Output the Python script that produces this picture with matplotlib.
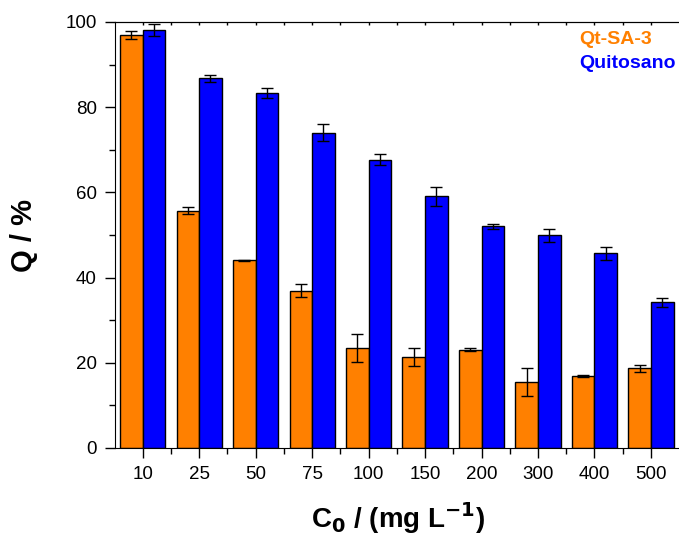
import numpy as np
import matplotlib.pyplot as plt

plt.rcParams['font.family'] = ['Liberation Sans', 'DejaVu Sans']
plt.rcParams['mathtext.default'] = 'bf'

conc = ['10', '25', '50', '75', '100', '150', '200', '300', '400', '500']
qt_sa3 = [96.9, 55.7, 44.1, 36.9, 23.4, 21.3, 23.1, 15.4, 16.9, 18.7]
qt_sa3_err = [1.0, 0.8, 0.1, 1.5, 3.3, 2.1, 0.4, 3.3, 0.2, 0.9]
quitosano = [98.1, 86.8, 83.3, 74.0, 67.7, 59.1, 52.0, 49.9, 45.7, 34.2]
quitosano_err = [1.5, 0.8, 1.2, 2.0, 1.3, 2.2, 0.5, 1.6, 1.5, 1.1]

fig = plt.figure(figsize=(6.79, 5.35), dpi=100)
ax = fig.add_axes([115/679, (535-448)/535, (682-115)/679, (448-22)/535])

x = np.arange(len(conc))
w = 0.4
err_kw = dict(ecolor='black', elinewidth=1, capsize=4, capthick=1)
ax.bar(x - w/2, qt_sa3, w, color='#FF8000', edgecolor='black', linewidth=1,
       yerr=qt_sa3_err, error_kw=err_kw)
ax.bar(x + w/2, quitosano, w, color='#0000FF', edgecolor='black', linewidth=1,
       yerr=quitosano_err, error_kw=err_kw)

ax.set_xlim(-0.49, 9.55)
ax.set_ylim(0, 100)
ax.set_xticks(x)
ax.set_xticklabels(conc)
ax.set_xticks(x[:-1] + 0.5, minor=True)
ax.set_yticks(np.arange(0, 101, 20))
ax.set_yticks(np.arange(10, 100, 20), minor=True)
ax.tick_params(axis='both', which='major', direction='out', length=7, width=1,
               labelsize=13.5, pad=6)
ax.tick_params(axis='both', which='minor', direction='out', length=4, width=1)
ax.spines['right'].set_visible(False)

# tiny ticks on the top axis
top = ax.secondary_xaxis('top')
top.set_xticks(x)
top.set_xticks(x[:-1] + 0.5, minor=True)
top.tick_params(which='both', direction='in', length=2, width=1, labeltop=False)

ax.set_ylabel('Q / %', fontsize=21, fontweight='bold', labelpad=20)
ax.set_xlabel(r'C$_\mathbf{0}$ / (mg L$^\mathbf{-1}$)', fontsize=20,
              fontweight='bold', labelpad=12)

fig.text(579/679, 1 - 39/535, 'Qt-SA-3', color='#FF8000', fontsize=14,
         fontweight='bold', va='center', ha='left')
fig.text(579/679, 1 - 63/535, 'Quitosano', color='#0000FF', fontsize=14,
         fontweight='bold', va='center', ha='left')

fig.savefig('out.png', dpi=100)
